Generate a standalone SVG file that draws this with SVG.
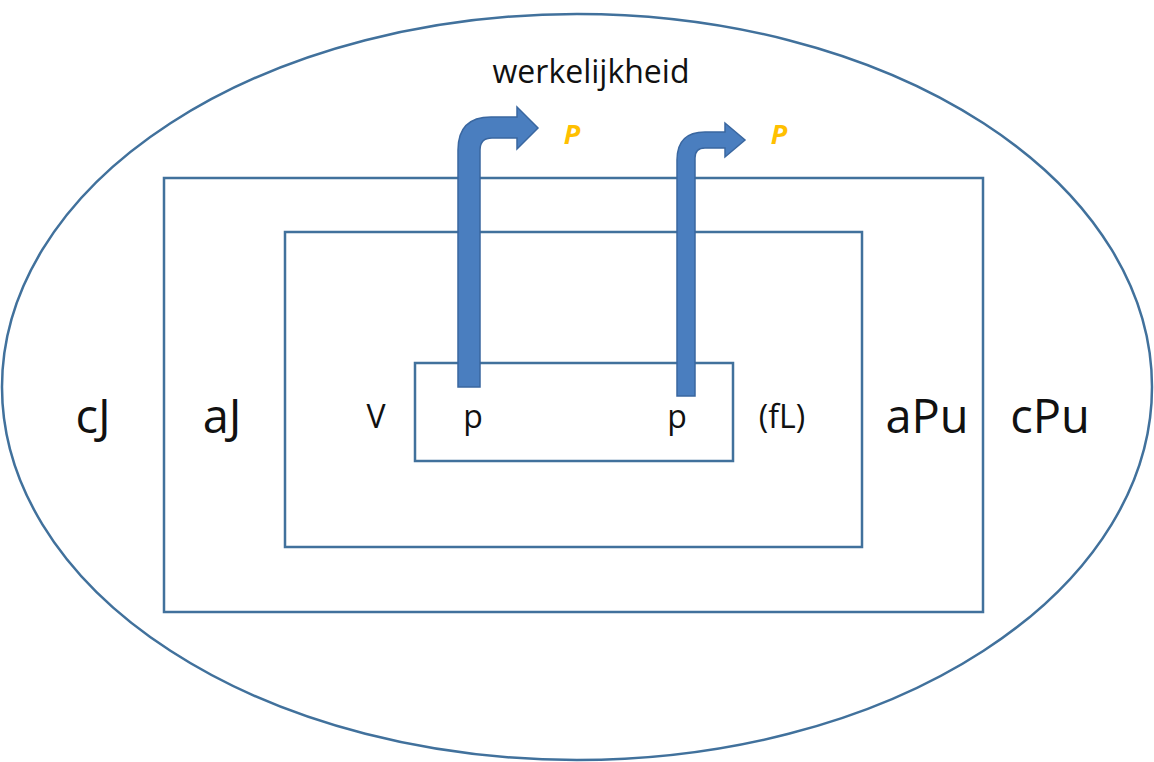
<svg xmlns="http://www.w3.org/2000/svg" width="1154" height="762" viewBox="0 0 1154 762">
<style>
.frame{fill:none;stroke:#41719C;stroke-width:2.5}
.lbl{font-family:"Open Sans","Liberation Sans",sans-serif;fill:#111}
.big{font-size:47px}
.mid{font-size:32px}
.top{font-size:32px}
.pp{font-family:"Open Sans","Liberation Sans",sans-serif;font-size:27px;font-weight:bold;font-style:italic;fill:#FFC000}
.arrow{fill:#4A7EBF;stroke:#3A67A0;stroke-width:1.5}
</style>
<rect width="1154" height="762" fill="#fff"/>
<g id="reality">
<ellipse class="frame" cx="577" cy="387" rx="575" ry="373"/>
<text class="lbl top" x="591" y="83" text-anchor="middle">werkelijkheid</text>
<text class="lbl big" x="93" y="433" text-anchor="middle">cJ</text>
<text class="lbl big" x="1050" y="433" text-anchor="middle">cPu</text>
</g>
<g id="outer">
<rect class="frame" x="164" y="178" width="819" height="434"/>
<text class="lbl big" x="222" y="433" text-anchor="middle">aJ</text>
<text class="lbl big" x="927" y="433" text-anchor="middle">aPu</text>
</g>
<g id="middle">
<rect class="frame" x="285" y="232" width="577" height="315"/>
<text class="lbl mid" x="376" y="428" text-anchor="middle">V</text>
<text class="lbl mid" x="782" y="428" text-anchor="middle">(fL)</text>
</g>
<g id="inner">
<rect class="frame" x="415" y="363" width="318" height="98"/>
<text class="lbl mid" x="473" y="428" text-anchor="middle">p</text>
<text class="lbl mid" x="677" y="428" text-anchor="middle">p</text>
</g>
<g id="connectors">
<path class="arrow" d="M458,387 L458,150 Q458,117 491,117 L517,117 L517,107 L538,128 L517,149 L517,138 L492,138 Q480,138 480,150 L480,387 Z"/>
<path class="arrow" d="M677,396 L677,160 Q677,132 705,132 L725,132 L725,123 L745,140 L725,157 L725,148 L705,148 Q695,148 695,158 L695,396 Z"/>
<text class="pp" x="572" y="144" text-anchor="middle">P</text>
<text class="pp" x="779" y="144" text-anchor="middle">P</text>
</g>
</svg>
